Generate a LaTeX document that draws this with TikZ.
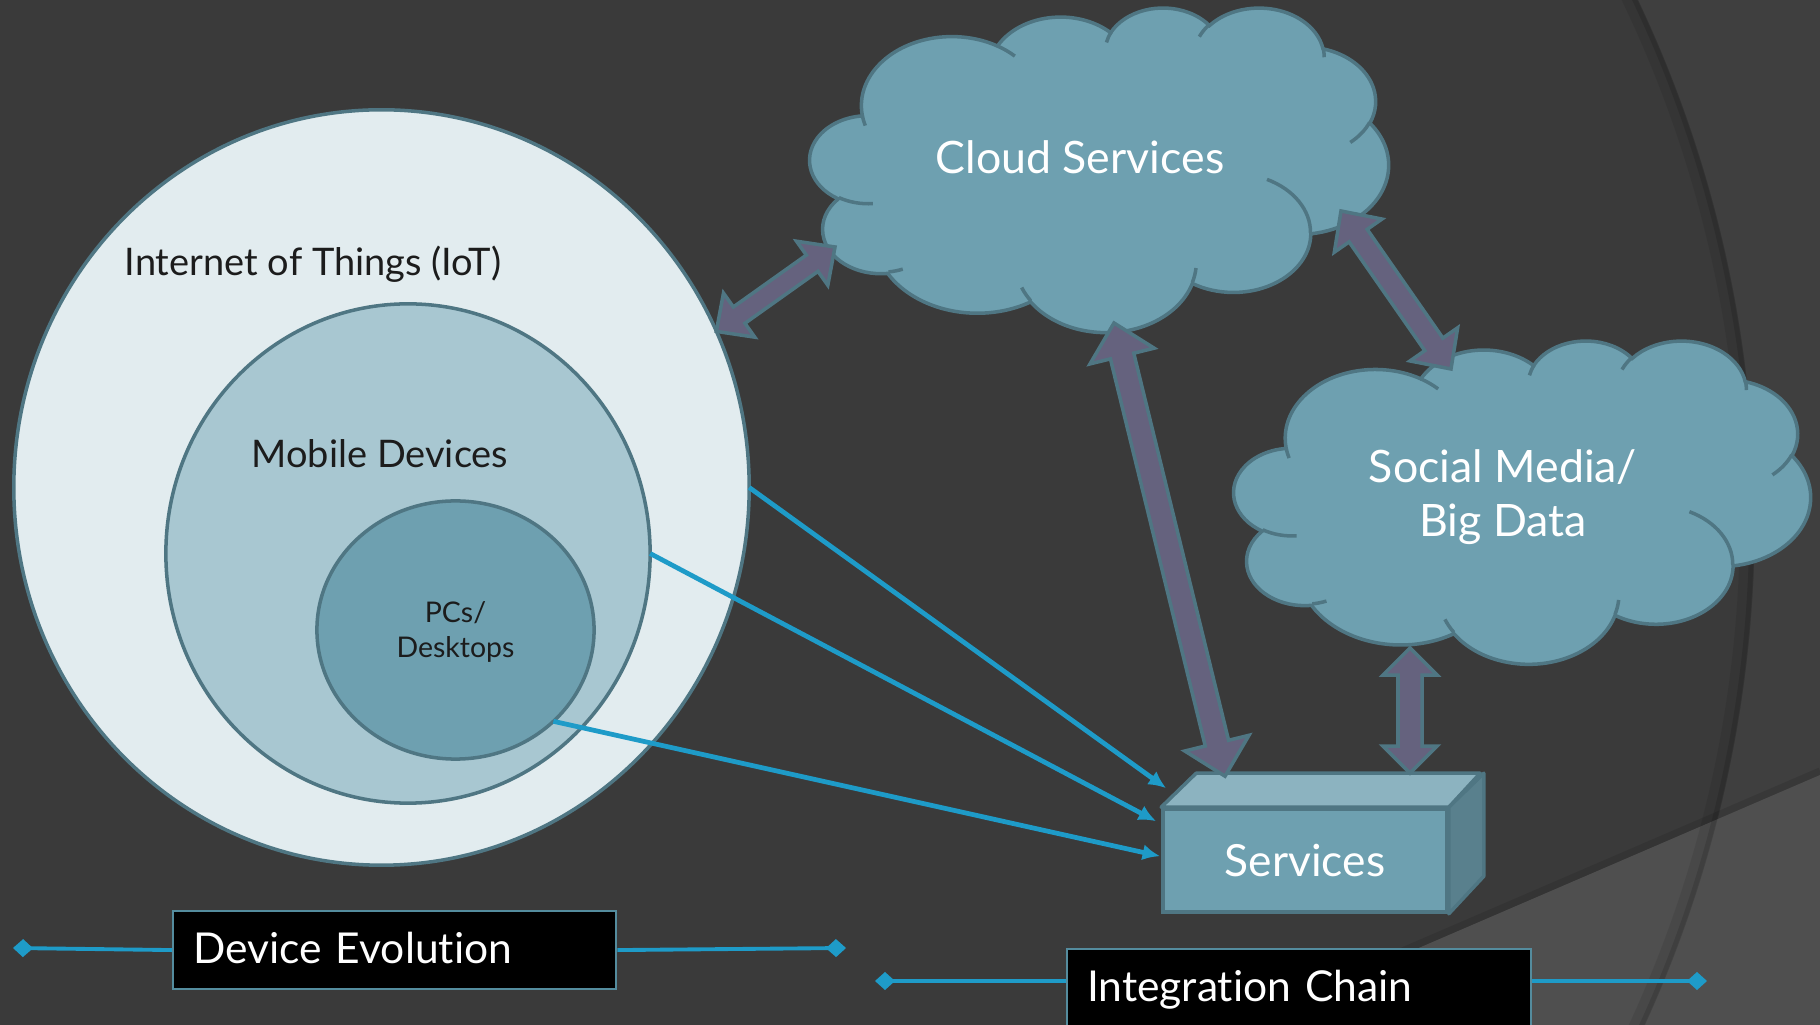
\documentclass[tikz,border=0pt]{standalone}
\usepackage{fontspec}
\setmainfont{Lato}[Ligatures={NoCommon}]
\usetikzlibrary{shapes.geometric,arrows.meta,calc}

\definecolor{slidebg}{RGB}{58,58,58}
\definecolor{slideshade}{RGB}{63,63,63}
\definecolor{slideband}{RGB}{79,79,79}
\definecolor{edgeteal}{RGB}{79,118,131}
\definecolor{iotfill}{RGB}{226,236,239}
\definecolor{mobilefill}{RGB}{168,199,209}
\definecolor{tealfill}{RGB}{110,160,176}
\definecolor{cubetopfill}{RGB}{140,179,192}
\definecolor{cubesidefill}{RGB}{89,128,141}
\definecolor{fatfill}{RGB}{101,98,126}
\definecolor{linkblue}{RGB}{30,155,200}
\definecolor{chainedge}{RGB}{84,140,158}
\definecolor{darktext}{RGB}{28,28,28}

\tikzset{
  devdisc/.style={ellipse, draw=edgeteal, line width=1pt, inner sep=0pt, outer sep=0pt},
  disctext/.style={text=darktext, inner sep=0pt, font=\fontsize{10.8}{13}\selectfont},
  pctext/.style={text=darktext, align=center, inner sep=0pt, font=\fontsize{8.1}{10}\selectfont},
  cloudbody/.style={fill=tealfill, draw=edgeteal, line width=1pt},
  cloudcrease/.style={draw=edgeteal, line width=1pt},
  cloudtext/.style={text=white, align=center, inner sep=0pt, font=\fontsize{12.7}{15.4}\selectfont},
  cubefront/.style={fill=tealfill, draw=edgeteal, line width=1pt, text=white,
    minimum width=2.84cm, minimum height=1.03cm, font=\fontsize{12.6}{15.4}\selectfont},
  cubetop/.style={fill=cubetopfill, draw=edgeteal, line width=1pt, line join=round},
  cubeside/.style={fill=cubesidefill, draw=edgeteal, line width=1pt, line join=round},
  fatbody/.style={fill=fatfill, draw=edgeteal, line width=1pt, line join=miter},
  bluelink/.style={linkblue, line width=1.35pt, -{Latex[length=5pt,width=4.6pt]}},
  chainline/.style={linkblue, line width=1.1pt, -{Diamond[length=0.2cm,width=0.18cm]}},
  chainbox/.style={fill=black, draw=chainedge, line width=0.6pt, text=white, align=left,
    inner xsep=0.2cm, inner ysep=0.18cm, text height=0.34cm, text depth=0.08cm,
    font=\fontsize{12.1}{15.4}\selectfont}
}

% block arrow with two heads: from, to, shaft half width, head half width, head length
\newcommand\fatarrow[5]{%
  \filldraw[fatbody] (#1) -- ($(#1)!#5!(#2)!#4!90:(#2)$) -- ($(#1)!#5!(#2)!#3!90:(#2)$)
    -- ($(#2)!#5!(#1)!#3!-90:(#1)$) -- ($(#2)!#5!(#1)!#4!-90:(#1)$) -- (#2)
    -- ($(#2)!#5!(#1)!#4!90:(#1)$) -- ($(#2)!#5!(#1)!#3!90:(#1)$)
    -- ($(#1)!#5!(#2)!#3!-90:(#2)$) -- ($(#1)!#5!(#2)!#4!-90:(#2)$) -- cycle;}

% cloud outline: top left corner, x unit, y unit
\newcommand\drawcloud[3]{%
  \begin{scope}[shift={(#1)}, x=#2, y=#3]
    \filldraw[cloudbody] (39.00,143.70)
      arc[start angle=172.25, delta angle=128.11, x radius=67.53, y radius=91.90]
      arc[start angle=207.96, delta angle=106.58, x radius=53.33, y radius=72.67]
      arc[start angle=206.51, delta angle=116.17, x radius=43.65, y radius=59.45]
      arc[start angle=220.29, delta angle=129.50, x radius=48.57, y radius=65.95]
      arc[start angle=-74.77, delta angle=97.98, x radius=53.33, y radius=72.73]
      arc[start angle=-37.53, delta angle=119.39, x radius=67.75, y radius=92.20]
      arc[start angle=0.46, delta angle=121.52, x radius=57.85, y radius=78.67]
      arc[start angle=16.85, delta angle=129.37, x radius=67.52, y radius=92.15]
      arc[start angle=58.98, delta angle=91.21, x radius=77.20, y radius=105.43]
      arc[start angle=83.31, delta angle=139.80, x radius=43.60, y radius=59.18]
      arc[start angle=120.35, delta angle=143.76, x radius=43.45, y radius=59.45]
      -- cycle;
    \draw[cloudcrease]
      (46.93,261.77) arc[start angle=85.55, delta angle=34.81, x radius=43.45, y radius=59.45]
      (69.28,348.99) arc[start angle=68.23, delta angle=14.5, x radius=43.60, y radius=59.18]
      (164.78,390.90) arc[start angle=146.22, delta angle=12.26, x radius=67.52, y radius=92.15]
      (288.27,347.51) arc[start angle=4.74, delta angle=12.11, x radius=67.52, y radius=92.15]
      (341.29,229.54) arc[start angle=-64.03, delta angle=64.49, x radius=57.85, y radius=78.67]
      (417.98,153.54) arc[start angle=23.21, delta angle=26.43, x radius=53.33, y radius=72.73]
      (383.24,54.26) arc[start angle=-10.21, delta angle=11.03, x radius=48.57, y radius=65.95]
      (290.78,39.52) arc[start angle=-156.29, delta angle=16.58, x radius=48.57, y radius=65.95]
      (221.41,47.20) arc[start angle=-167.73, delta angle=14.24, x radius=43.65, y radius=59.45]
      (140.00,51.92) arc[start angle=-59.64, delta angle=13.89, x radius=67.53, y radius=91.90]
      (41.27,157.89) arc[start angle=163.20, delta angle=9.05, x radius=67.53, y radius=91.90];
  \end{scope}}

\begin{document}
\begin{tikzpicture}[x=0.01cm, y=-0.01cm]
  % backdrop
  \useasboundingbox (0,0) rectangle (1820,1025);
  \fill[slidebg] (0,0) rectangle (1820,1025);
  \fill[slideshade, even odd rule] (0,0) rectangle (1820,1025) (541,520) circle[radius=1214];
  \fill[slideband] (1240,1025) -- (1820,775) -- (1820,1025) -- cycle;
  \begin{scope}
    \clip (0,0) rectangle (1820,1025);
    \draw[black, opacity=0.08, line width=4pt] (541,520) circle[radius=1206];
    \draw[black, opacity=0.12, line width=1.5pt] (541,520) circle[radius=1211];
    \draw[black, opacity=0.1, line width=2pt] (1240,1021) -- (1820,771);
  \end{scope}

  % device evolution
  \begin{scope}[every node/.style={devdisc}]
    \node[fill=iotfill, minimum width=7.35cm, minimum height=7.55cm] (iot) at (381.5,487.5) {};
    \node[fill=mobilefill, minimum width=4.84cm, minimum height=4.99cm] (mobile) at (408,553.5) {};
    \node[fill=tealfill, minimum width=2.77cm, minimum height=2.58cm] (pcs) at (455.5,630) {};
  \end{scope}
  \node[disctext, anchor=base west] (iotlabel) at (124,276) {Internet of Things (IoT)};
  \node[disctext, anchor=base west] (mobilelabel) at (251,468) {Mobile Devices};
  \node[pctext] (pclabel) at (455.5,632) {PCs/\\Desktops};

  % clouds
  \drawcloud{810,7}{0.01338cm}{-0.0075cm}
  \drawcloud{1234,340}{0.013333cm}{-0.007477cm}
  \node[cloudtext, anchor=base] (cloudsvc) at (1080,174) {Cloud Services};
  \node[cloudtext] (social) at (1503,497) {Social Media/\\Big Data};

  % services block
  \node[cubefront] (services) at (1305,860.5) {Services};
  \filldraw[cubetop] (services.north west) -- ++(35,-34) -- ++(284,0) -- (services.north east) -- cycle;
  \filldraw[cubeside] (services.north east) -- ++(35,-34) -- ++(0,103) -- (services.south east) -- cycle;

  \coordinate (csW) at (835,247);
  \coordinate (csSE) at (1341,211);
  \coordinate (csS) at (1114,323);
  \coordinate (smNW) at (1451,369);
  \coordinate (smS) at (1410,648);
  \coordinate (svcA) at ($(services.north)+(-80,-31)$);
  \coordinate (svcB) at ($(services.north)+(105,-34)$);
  \coordinate (svcIn1) at ($(services.north west)+(5,-19)$);
  \coordinate (svcIn2) at ($(services.north west)+(-5,14)$);
  \coordinate (svcIn3) at ($(services.north west)+(-1,49)$);

  \draw[bluelink] (iot.east) -- (svcIn1);
  \draw[bluelink] (mobile.east) -- (svcIn2);
  \draw[bluelink] (pcs.-43.5) -- (svcIn3);

  \fatarrow{iot.25.6}{csW}{0.1cm}{0.27cm}{0.28cm}
  \fatarrow{csSE}{smNW}{0.11cm}{0.29cm}{0.3cm}
  \fatarrow{csS}{svcA}{0.12cm}{0.33cm}{0.34cm}
  \fatarrow{smS}{svcB}{0.12cm}{0.27cm}{0.27cm}

  % chain labels
  \node[chainbox, anchor=north west, text width=4.03cm] (devbox) at (172,910) {Device Evolution};
  \node[chainbox, anchor=north west, text width=4.24cm, text depth=0.5cm] (intbox) at (1066,948) {Integration Chain};
  \coordinate (devL) at (13,948);
  \coordinate (devR) at (846,948);
  \coordinate (intL) at (875,981);
  \coordinate (intR) at (1707,981);
  \draw[chainline] (devbox.west) -- (devL);
  \draw[chainline] (devbox.east) -- (devR);
  \draw[chainline] (intbox.west |- intL) -- (intL);
  \draw[chainline] (intbox.east |- intR) -- (intR);
\end{tikzpicture}
\end{document}
